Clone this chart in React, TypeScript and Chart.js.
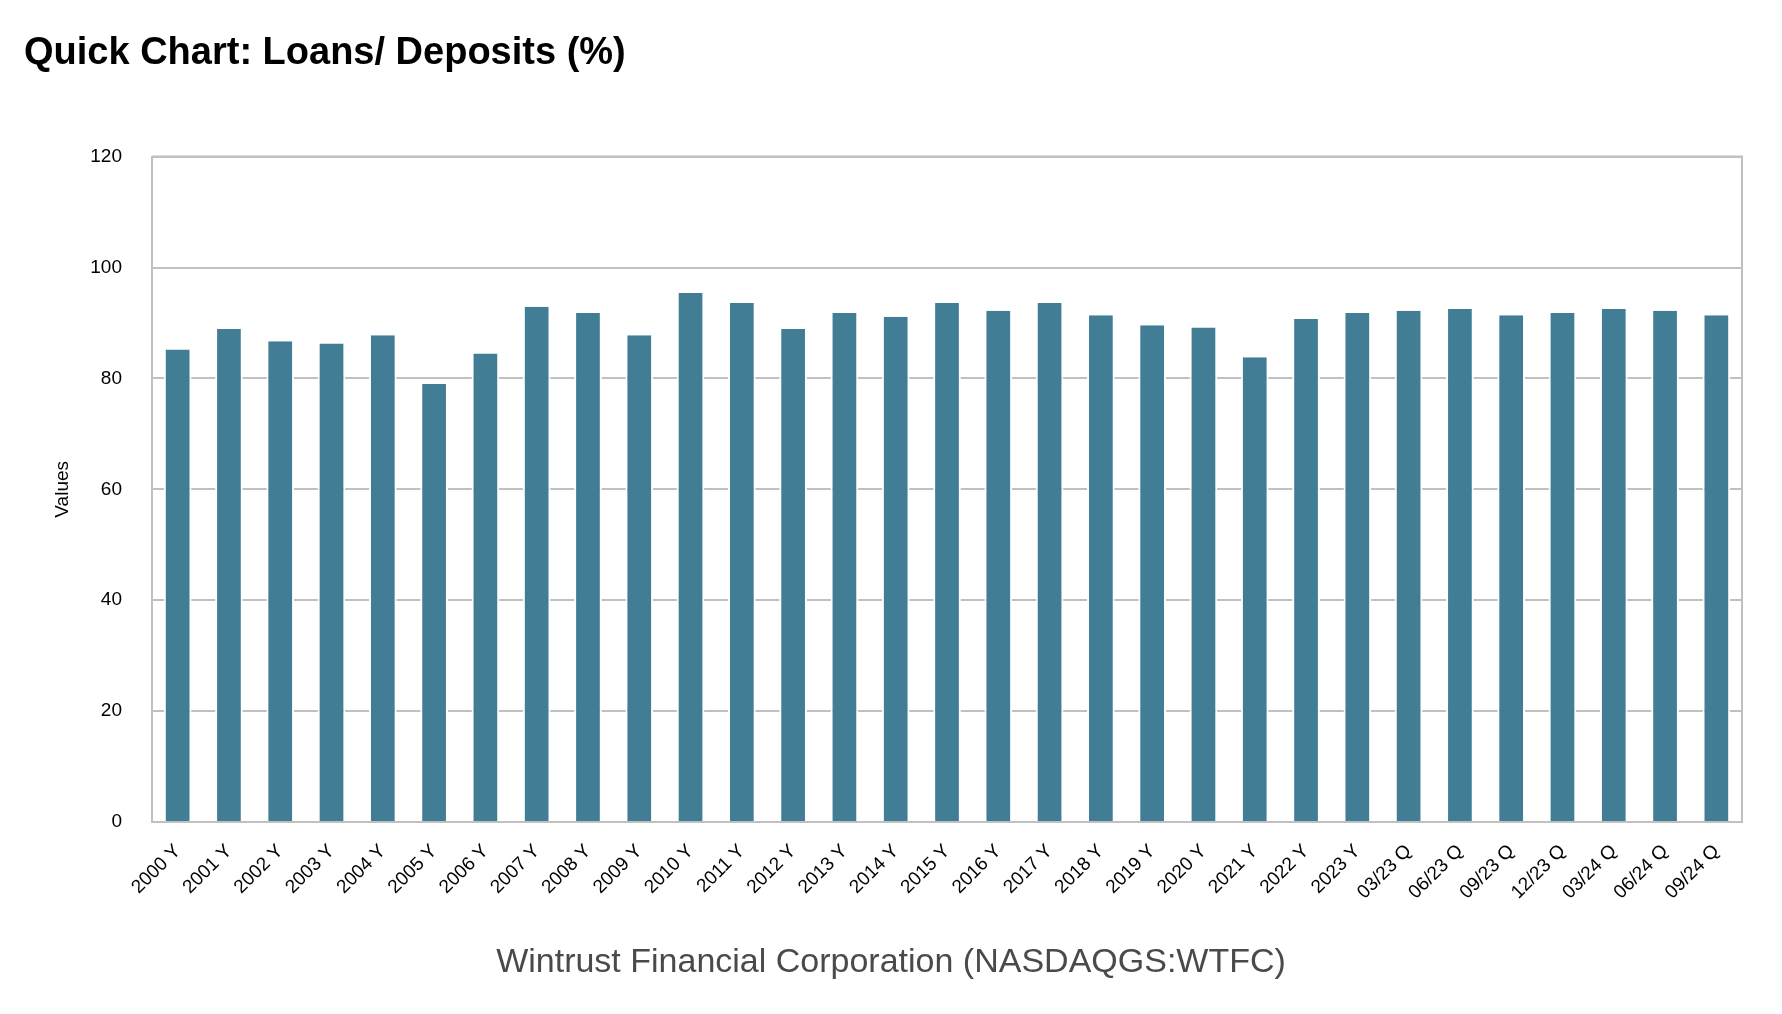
import React, { useEffect, useRef } from "react";
import { Chart, registerables } from "chart.js";

Chart.register(...registerables);

const categories = [
  "2000 Y", "2001 Y", "2002 Y", "2003 Y", "2004 Y", "2005 Y", "2006 Y", "2007 Y",
  "2008 Y", "2009 Y", "2010 Y", "2011 Y", "2012 Y", "2013 Y", "2014 Y", "2015 Y",
  "2016 Y", "2017 Y", "2018 Y", "2019 Y", "2020 Y", "2021 Y", "2022 Y", "2023 Y",
  "03/23 Q", "06/23 Q", "09/23 Q", "12/23 Q", "03/24 Q", "06/24 Q", "09/24 Q",
];

const loansToDeposits = [
  85.2, 88.9, 86.7, 86.3, 87.8, 79.0, 84.5, 92.9,
  91.8, 87.8, 95.4, 93.6, 88.9, 91.8, 91.1, 93.6,
  92.2, 93.6, 91.4, 89.6, 89.2, 83.8, 90.7, 91.8,
  92.2, 92.5, 91.4, 91.8, 92.5, 92.2, 91.4,
];

const yTicks = [0, 20, 40, 60, 80, 100, 120];

const titleText = "Quick Chart: Loans/ Deposits (%)";
const subtitleText = "Wintrust Financial Corporation (NASDAQGS:WTFC)";
const yAxisTitle = "Values";

const FONT = "'Liberation Sans', Arial, sans-serif";
const GRID = "#c0c0c0";

const framePlugin = {
  id: "frame",
  afterDatasetsDraw(chart: any) {
    const { ctx, chartArea } = chart;
    const { left, right, top, bottom } = chartArea;
    ctx.save();
    ctx.strokeStyle = GRID;
    ctx.lineWidth = 2;
    ctx.beginPath();
    ctx.moveTo(left, top);
    ctx.lineTo(right, top);
    ctx.lineTo(right, bottom);
    ctx.stroke();
    ctx.restore();
  },
};

export default function App() {
  const ref = useRef<HTMLCanvasElement | null>(null);

  useEffect(() => {
    if (!ref.current) return;
    const chart = new Chart(ref.current, {
      type: "bar",
      data: {
        labels: categories,
        datasets: [
          {
            label: "Loans/ Deposits (%)",
            data: loansToDeposits,
            backgroundColor: "#417e96",
            borderColor: "#ffffff",
            borderWidth: { left: 2, right: 2, top: 0, bottom: 0 },
            borderSkipped: false,
            categoryPercentage: 1,
            barPercentage: 0.54,
          },
        ],
      },
      options: {
        responsive: false,
        animation: false,
        devicePixelRatio: 1,
        layout: { padding: { left: 24, right: 40, top: 0, bottom: 86 } },
        plugins: {
          legend: { display: false },
          tooltip: { enabled: false },
          title: {
            display: true,
            text: titleText,
            align: "start",
            color: "#000000",
            font: { family: FONT, size: 38, weight: "bold" },
            padding: { top: 31, bottom: 80 },
          },
        },
        scales: {
          x: {
            offset: true,
            grid: { display: true, drawOnChartArea: false, drawTicks: false },
            border: { display: true, color: GRID, width: 2 },
            ticks: {
              color: "#000000",
              font: { family: FONT, size: 19 },
              maxRotation: 45,
              minRotation: 45,
              autoSkip: false,
              padding: 18,
            },
            afterFit: (scale: any) => {
              scale.height = 106;
            },
          },
          y: {
            min: 0,
            max: 120,
            grid: { color: GRID, lineWidth: 2, drawTicks: false },
            border: { display: true, color: GRID, width: 2 },
            ticks: {
              color: "#000000",
              font: { family: FONT, size: 19 },
              padding: 30,
            },
            afterBuildTicks: (scale: any) => {
              scale.ticks = yTicks.map((v) => ({ value: v }));
            },
            afterFit: (scale: any) => {
              scale.width = 128;
            },
            title: {
              display: true,
              text: yAxisTitle,
              color: "#000000",
              font: { family: FONT, size: 19 },
              padding: 27,
            },
          },
        },
      },
      plugins: [framePlugin],
    });
    return () => chart.destroy();
  }, []);

  return (
    <div style={{ position: "fixed", left: 0, top: 0, width: 1782, height: 1014, background: "#ffffff", overflow: "hidden" }}>
      <canvas ref={ref} width={1782} height={1014} style={{ width: 1782, height: 1014, display: "block" }} />
      <div
        style={{
          position: "absolute",
          left: 0,
          top: 940,
          width: 1782,
          textAlign: "center",
          fontFamily: FONT,
          fontSize: 34,
          lineHeight: "40px",
          color: "#4a4a4a",
          whiteSpace: "nowrap",
        }}
      >
        {subtitleText}
      </div>
    </div>
  );
}
